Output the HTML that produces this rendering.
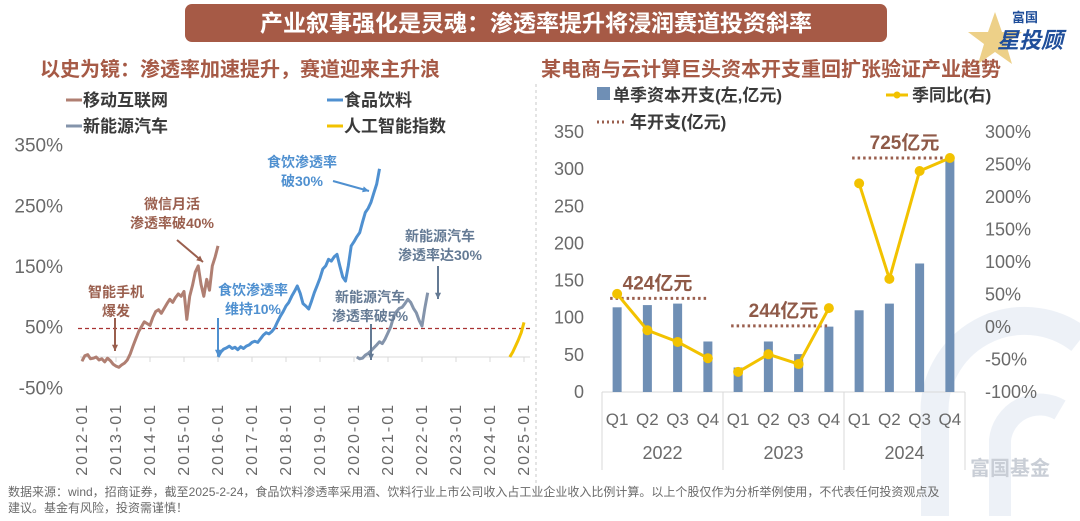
<!DOCTYPE html>
<html><head><meta charset="utf-8">
<style>
html,body{margin:0;padding:0;background:#fff;}
body{width:1080px;height:516px;overflow:hidden;font-family:"Liberation Sans","Noto Sans CJK SC",sans-serif;}
svg text{font-family:"Liberation Sans","Noto Sans CJK SC",sans-serif;}
</style></head>
<body>
<svg id="chart" width="1080" height="516" viewBox="0 0 1080 516">
  <g opacity="0.08">
    <path d="M935 516 L935 420 A90 90 0 0 1 1080 340" fill="none" stroke="#2f5fa8" stroke-width="28"/>
    <path d="M1000 516 L1000 440 A40 40 0 0 1 1060 410" fill="none" stroke="#2f5fa8" stroke-width="22"/>
  </g>
  <text x="1010" y="475" font-size="20" font-weight="bold" fill="#c9ced6" text-anchor="middle">富国基金</text>

  <rect x="185" y="4" width="702" height="38" rx="7" fill="#a65a46"/>
  <text x="536" y="31" font-size="23" font-weight="bold" fill="#fff" text-anchor="middle">产业叙事强化是灵魂：渗透率提升将浸润赛道投资斜率</text>
  <g>
    <polygon points="995,12 1002,32 1022,32 1006,44 1012,64 995,52 978,64 984,44 968,32 988,32" fill="#e9c46a" opacity="0.8"/>
    <text x="1025" y="22" font-size="13" font-weight="bold" fill="#1f4e9a" text-anchor="middle">富国</text>
    <text x="1030" y="48" font-size="22" font-weight="bold" font-style="italic" fill="#1f4e9a" text-anchor="middle">星投顾</text>
  </g>

  <text x="40" y="76" font-size="20" font-weight="bold" fill="#a65a46">以史为镜：渗透率加速提升，赛道迎来主升浪</text>
  <text x="541" y="76" font-size="20" font-weight="bold" fill="#a65a46">某电商与云计算巨头资本开支重回扩张验证产业趋势</text>

  <line x1="536" y1="84" x2="536" y2="492" stroke="#c8c8c8" stroke-dasharray="3,3"/>

  <g font-size="17" font-weight="bold" fill="#3a3a3a">
    <g><line x1="66" y1="100" x2="82" y2="100" stroke="#b07f72" stroke-width="3"/><text x="83" y="106">移动互联网</text></g>
    <g><line x1="327" y1="100" x2="343" y2="100" stroke="#4f90d0" stroke-width="3"/><text x="344" y="106">食品饮料</text></g>
    <g><line x1="66" y1="126" x2="82" y2="126" stroke="#8494ab" stroke-width="3"/><text x="83" y="132">新能源汽车</text></g>
    <g><line x1="327" y1="126" x2="343" y2="126" stroke="#f2c200" stroke-width="3"/><text x="344" y="132">人工智能指数</text></g>
  </g>

  <g id="left-chart"></g>

  <g font-size="17" font-weight="bold" fill="#3a3a3a">
    <g><rect x="597" y="87" width="13" height="13" fill="#6f8fb5"/><text x="613" y="101">单季资本开支(左,亿元)</text></g>
    <g><line x1="886" y1="95" x2="908" y2="95" stroke="#f2c200" stroke-width="3"/><circle cx="897" cy="95" r="3.5" fill="#f2c200"/><text x="912" y="101">季同比(右)</text></g>
    <g><line x1="597" y1="122" x2="625" y2="122" stroke="#9a5f4e" stroke-width="3" stroke-dasharray="2,3"/><text x="630" y="128">年开支(亿元)</text></g>
  </g>

  <g id="right-chart"></g>

  <text x="8" y="496" font-size="12" fill="#6a6a6a">数据来源：wind，招商证券，截至2025-2-24，食品饮料渗透率采用酒、饮料行业上市公司收入占工业企业收入比例计算。以上个股仅作为分析举例使用，不代表任何投资观点及</text>
  <text x="8" y="512" font-size="12" fill="#6a6a6a">建议。基金有风险，投资需谨慎！</text>
</svg>
<script>
const yearLabels = ["2012-01","2013-01","2014-01","2015-01","2016-01","2017-01","2018-01","2019-01","2020-01","2021-01","2022-01","2023-01","2024-01","2025-01"];
const leftTicks = [350,250,150,50,-50];
const mobileStart = 0;
const mobileValues = [-7,2,4,-3,-2,0,-5,-3,-8,-2,-6,-12,-15,-17,-13,-10,-5,5,18,30,42,50,58,55,52,65,75,78,72,80,88,95,90,98,104,100,108,62,100,118,140,150,120,100,128,110,150,165,183];
const foodStart = 48;
const foodValues = [0,8,13,15,18,14,16,12,17,14,18,20,24,26,24,30,36,40,38,42,48,58,67,75,84,90,100,108,117,105,88,84,79,92,106,118,130,145,150,161,158,165,169,150,132,125,150,183,190,198,205,222,238,245,255,270,285,310];
const nevStart = 97;
const nevValues = [0,-3,-2,3,6,10,15,20,25,22,30,40,50,67,75,80,82,88,95,90,80,73,60,51,80,106];
const aiStart = 151;
const aiValues = [0,8,18,28,40,57];
const refLineValue = 47;

const quarters = ["Q1","Q2","Q3","Q4","Q1","Q2","Q3","Q4","Q1","Q2","Q3","Q4"];
const years = ["2022","2023","2024"];
const capexValues = [114,117,119,68,33,68,51,88,110,119,173,315];
const yoyValues = [51,-5,-23,-48,-69,-42,-57,29,221,74,240,260];
const annualLabels = ["424亿元","244亿元","725亿元"];
const annualLevels = [126,89,315];
const leftAxisTicks = [0,50,100,150,200,250,300,350];
const rightAxisTicks = [-100,-50,0,50,100,150,200,250,300];

const NS = "http://www.w3.org/2000/svg";
function mk(parent, tag, attrs){const e=document.createElementNS(NS,tag);for(const k in attrs)e.setAttribute(k,attrs[k]);parent.appendChild(e);return e;}

(function(){
  const g = document.getElementById("left-chart");
  const xS = m => 82 + m*(442/156);
  const yS = v => 357 - v*0.607;
  leftTicks.forEach(t=>{
    const tx = mk(g,"text",{x:63,y:yS(t)+7,"font-size":19,fill:"#6a6a6a","text-anchor":"end"});
    
    
    tx.textContent = t+"%";
  });
  const base = mk(g,"line",{x1:80,y1:yS(0),x2:530,y2:yS(0),stroke:"#d9d9d9","stroke-width":1});
  
  
  yearLabels.forEach((lab,i)=>{
    const x = xS(i*12);
    const tk = mk(g,"line",{x1:x,y1:yS(0),x2:x,y2:yS(0)+5,stroke:"#d9d9d9"});
    
    
    const t = mk(g,"text",{x:0,y:0,"font-size":16,fill:"#6a6a6a","text-anchor":"end",transform:`translate(${x+5},403) rotate(-90)`,"letter-spacing":"2"});
    
    
    t.textContent = lab;
  });
  const ref = mk(g,"line",{x1:78,y1:yS(refLineValue),x2:530,y2:yS(refLineValue),stroke:"#a83232","stroke-width":1.3,"stroke-dasharray":"4,3"});
  
  
  function series(vals,start,color,name){
    const d = vals.map((v,i)=>(i?"L":"M")+xS(start+i).toFixed(1)+" "+yS(v).toFixed(1)).join(" ");
    const p = mk(g,"path",{d:d,fill:"none",stroke:color,"stroke-width":3,"stroke-linejoin":"round"});
    
    
  }
  series(mobileValues,mobileStart,"#b07f72","line-mobile-internet");
  series(foodValues,foodStart,"#4f90d0","line-food-beverage");
  series(nevValues,nevStart,"#8494ab","line-nev");
  series(aiValues,aiStart,"#f2c200","line-ai-index");

  function note(lines,cx,y,color,name,ax1,ay1,ax2,ay2){
    const t = mk(g,"text",{x:cx,y:y,"font-size":14,"font-weight":"bold",fill:color,"text-anchor":"middle"});
    
    
    lines.forEach((l,i)=>{const s=mk(t,"tspan",{x:cx,dy:i?19:0});s.textContent=l;});
    const a = mk(g,"line",{x1:ax1,y1:ay1,x2:ax2,y2:ay2,stroke:color,"stroke-width":2});
    
    
    const ang = Math.atan2(ay2-ay1,ax2-ax1), L=7;
    const p1=[ax2-L*Math.cos(ang-0.45),ay2-L*Math.sin(ang-0.45)], p2=[ax2-L*Math.cos(ang+0.45),ay2-L*Math.sin(ang+0.45)];
    const h = mk(g,"polygon",{points:`${ax2},${ay2} ${p1} ${p2}`,fill:color});
    
    
  }
  note(["智能手机","爆发"],116,297,"#9a5f4e","note-smartphone",115,318,115,351);
  note(["微信月活","渗透率破40%"],172,209,"#9a5f4e","note-wechat",177,240,203,262);
  note(["食饮渗透率","破30%"],302,167,"#4f90d0","note-food-30",333,181,369,191);
  note(["食饮渗透率","维持10%"],253,295,"#4f90d0","note-food-10",218,318,218,356);
  note(["新能源汽车","渗透率破5%"],370,302,"#647a94","note-nev-5",371,324,371,360);
  note(["新能源汽车","渗透率达30%"],440,241,"#647a94","note-nev-30",438,266,438,299);
})();

(function(){
  const g = document.getElementById("right-chart");
  const x0 = 602, bw = (965-602)/12;
  const xC = i => x0 + (i+0.5)*bw;
  const yL = v => 392 - v*(260/350);
  const yR = v => 327 - v*0.65;
  leftAxisTicks.forEach(t=>{
    const tx = mk(g,"text",{x:584,y:yL(t)+6,"font-size":18,fill:"#6a6a6a","text-anchor":"end"});
    
    
    tx.textContent = t;
  });
  rightAxisTicks.forEach(t=>{
    const tx = mk(g,"text",{x:985,y:yR(t)+6,"font-size":18,fill:"#6a6a6a","text-anchor":"start"});
    
    
    tx.textContent = t+"%";
  });
  const ax = mk(g,"line",{x1:x0,y1:392,x2:965,y2:392,stroke:"#d9d9d9"});
  
  
  [0,4,8,12].forEach(i=>{
    const l = mk(g,"line",{x1:x0+i*bw,y1:392,x2:x0+i*bw,y2:470,stroke:"#d9d9d9"});
    
    
  });
  capexValues.forEach((v,i)=>{
    const r = mk(g,"rect",{x:xC(i)-4.5,y:yL(v),width:9,height:392-yL(v),fill:"#6f8fb5"});
    
    
  });
  quarters.forEach((q,i)=>{
    const t = mk(g,"text",{x:xC(i),y:425,"font-size":17,fill:"#6a6a6a","text-anchor":"middle"});
    
    
    t.textContent = q;
  });
  years.forEach((y,i)=>{
    const t = mk(g,"text",{x:x0+(i*4+2)*bw,y:459,"font-size":18,fill:"#6a6a6a","text-anchor":"middle"});
    
    
    t.textContent = y;
  });
  annualLevels.forEach((v,k)=>{
    const l = mk(g,"line",{x1:xC(k*4)-7,y1:yL(v),x2:xC(k*4+3)+1,y2:yL(v),stroke:"#9a5f4e","stroke-width":3,"stroke-dasharray":"2.5,3"});
    
    
    const t = mk(g,"text",{x:(xC(k*4)+xC(k*4+3))/2+(k===0?-5:0),y:yL(v)-9,"font-size":19,"font-weight":"bold",fill:"#8f5a48","text-anchor":"middle"});
    
    
    t.textContent = annualLabels[k];
  });
  [0,4,8].forEach(s=>{
    const seg = yoyValues.slice(s,s+4);
    const d = seg.map((v,j)=>(j?"L":"M")+xC(s+j).toFixed(1)+" "+yR(v).toFixed(1)).join(" ");
    const p = mk(g,"path",{d:d,fill:"none",stroke:"#f2c200","stroke-width":3});
    
    
  });
  yoyValues.forEach((v,i)=>{
    const c = mk(g,"circle",{cx:xC(i),cy:yR(v),r:5,fill:"#f2c200"});
    
    
  });
})();
</script>
</body></html>
